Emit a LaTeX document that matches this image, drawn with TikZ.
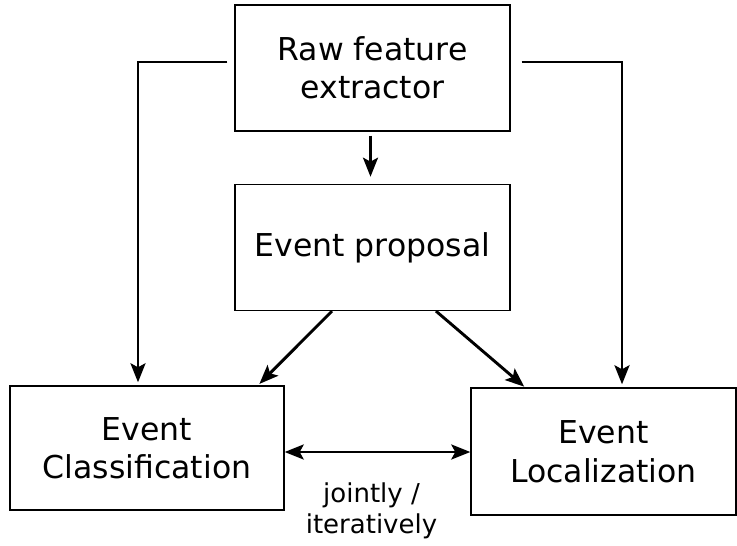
\documentclass[tikz,border=0pt]{standalone}
\usepackage{fontspec}
\setmainfont{DejaVu Sans}
\usetikzlibrary{arrows.meta, positioning}

\begin{document}
\begin{tikzpicture}[x=1pt, y=-1pt, node distance=52pt]
        \tikzstyle{block} = [rectangle, minimum width=275pt, minimum height=126pt, text centered, align=center, draw=black, line width=1.4pt, font=\fontsize{31.5}{38.5}\selectfont]
        \tikzstyle{arrow} = [line width=2.9pt, -{Stealth[length=19pt, width=15pt, inset=4pt]}]
        \tikzstyle{twoway} = [line width=2.9pt, {Stealth[length=19pt, width=15pt, inset=4pt]}-{Stealth[length=19pt, width=15pt, inset=4pt]}]

        \useasboundingbox (0,0) rectangle (737,546);

        \node (raw) [block] at (372.5,68) {Raw feature\\extractor};
        \node (prop) [block, below=of raw] {Event proposal};
        \node (cls) [block, minimum width=274pt, minimum height=124pt] at (147,448) {Event\\Classification};
        \node (loc) [block, minimum width=265pt, minimum height=127pt] at (603.5,451.5) {Event\\Localization};

        \draw [arrow, shorten <=4pt, shorten >=7pt] ([xshift=-2pt]raw.south) -- ([xshift=-2pt]prop.north);
        \draw [arrow, shorten <=7pt, shorten >=3pt] ([yshift=6pt]raw.west) -| ([xshift=-9pt]cls.north);
        \draw [arrow, shorten <=11pt, shorten >=3pt] ([yshift=6pt]raw.east) -| ([xshift=18.5pt]loc.north);
        \draw [arrow, shorten >=2pt] ([xshift=-40.5pt]prop.south) -- ([xshift=111pt]cls.north);
        \draw [arrow, shorten >=1pt] ([xshift=63.5pt]prop.south) -- ([xshift=-78.5pt]loc.north);
        \draw [twoway] ([yshift=-4pt]cls.east) -- ([yshift=-4pt]cls.east -| loc.west)
            node (how) [midway, xshift=-6pt, yshift=-59pt, align=center, font=\fontsize{26}{31}\selectfont] {jointly /\\iteratively};
\end{tikzpicture}
\end{document}
